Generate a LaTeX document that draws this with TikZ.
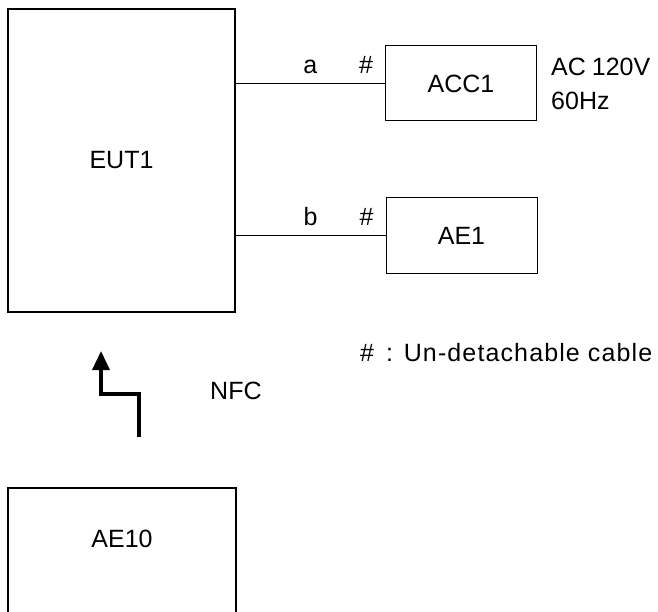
\documentclass[tikz,border=0pt]{standalone}
\usepackage{fontspec}
\setmainfont{Liberation Sans}
\newfontfamily\spacedfont[LetterSpace=4.5]{Liberation Sans}
\usetikzlibrary{arrows.meta,positioning,calc}

\begin{document}
\begin{tikzpicture}[
      x=1pt, y=-1pt,
      every node/.style={font=\fontsize{25pt}{30pt}\selectfont, inner sep=0pt},
      unitbox/.style={rectangle, draw=black, line width=1pt},
      cable/.style={draw=black, line width=1pt},
      cablemark/.style={anchor=base, yshift=10pt},
      nfcarrow/.style={-{Triangle[length=19pt,width=17pt]}, draw=black, line width=3.5pt}
    ]
      \clip (0,0) rectangle (658,612);

      \node[unitbox, line width=1.5pt, minimum width=227pt, minimum height=303pt] (eut) at (121.5,160.5) {EUT1};
      \node[unitbox, minimum width=151pt, minimum height=75pt] (acc1) at (461,83.5) {ACC1};
      \node[unitbox, minimum width=151pt, minimum height=75pt] (ae1) at (461.5,235.5) {AE1};
      \node[unitbox, line width=1.5pt, minimum width=228pt, minimum height=160pt, anchor=north] (ae10) at (122,487) {};
      \node (ae10txt) at ($(ae10.north)+(0,52)$) {AE10};

      \node[anchor=west, align=left, font=\fontsize{25pt}{34pt}\selectfont] (acc1pwr) at ($(acc1.east)+(14,0)$) {AC\hspace{6pt}120V\\60Hz};
      \node[anchor=west, font=\fontsize{25pt}{30pt}\spacedfont] (legend) at (360,353) {\#\hspace{12pt}: Un-detachable cable};

      \draw[cable] (acc1.west -| eut.east) -- node[pos=.5, cablemark] {a} node[pos=.874, cablemark] {\#} (acc1.west);
      \draw[cable] (ae1.west -| eut.east) -- node[pos=.5, cablemark] {b} node[pos=.874, cablemark] {\#} (ae1.west);

      % wireless link
      \coordinate (nfcfrom) at (139,437);
      \coordinate (nfcto) at (101,351);
      \draw[nfcarrow] (nfcfrom) -- ++(0,-43) -| (nfcto);
      \node[anchor=west] (nfc) at (210,391) {NFC};
    \end{tikzpicture}
\end{document}
